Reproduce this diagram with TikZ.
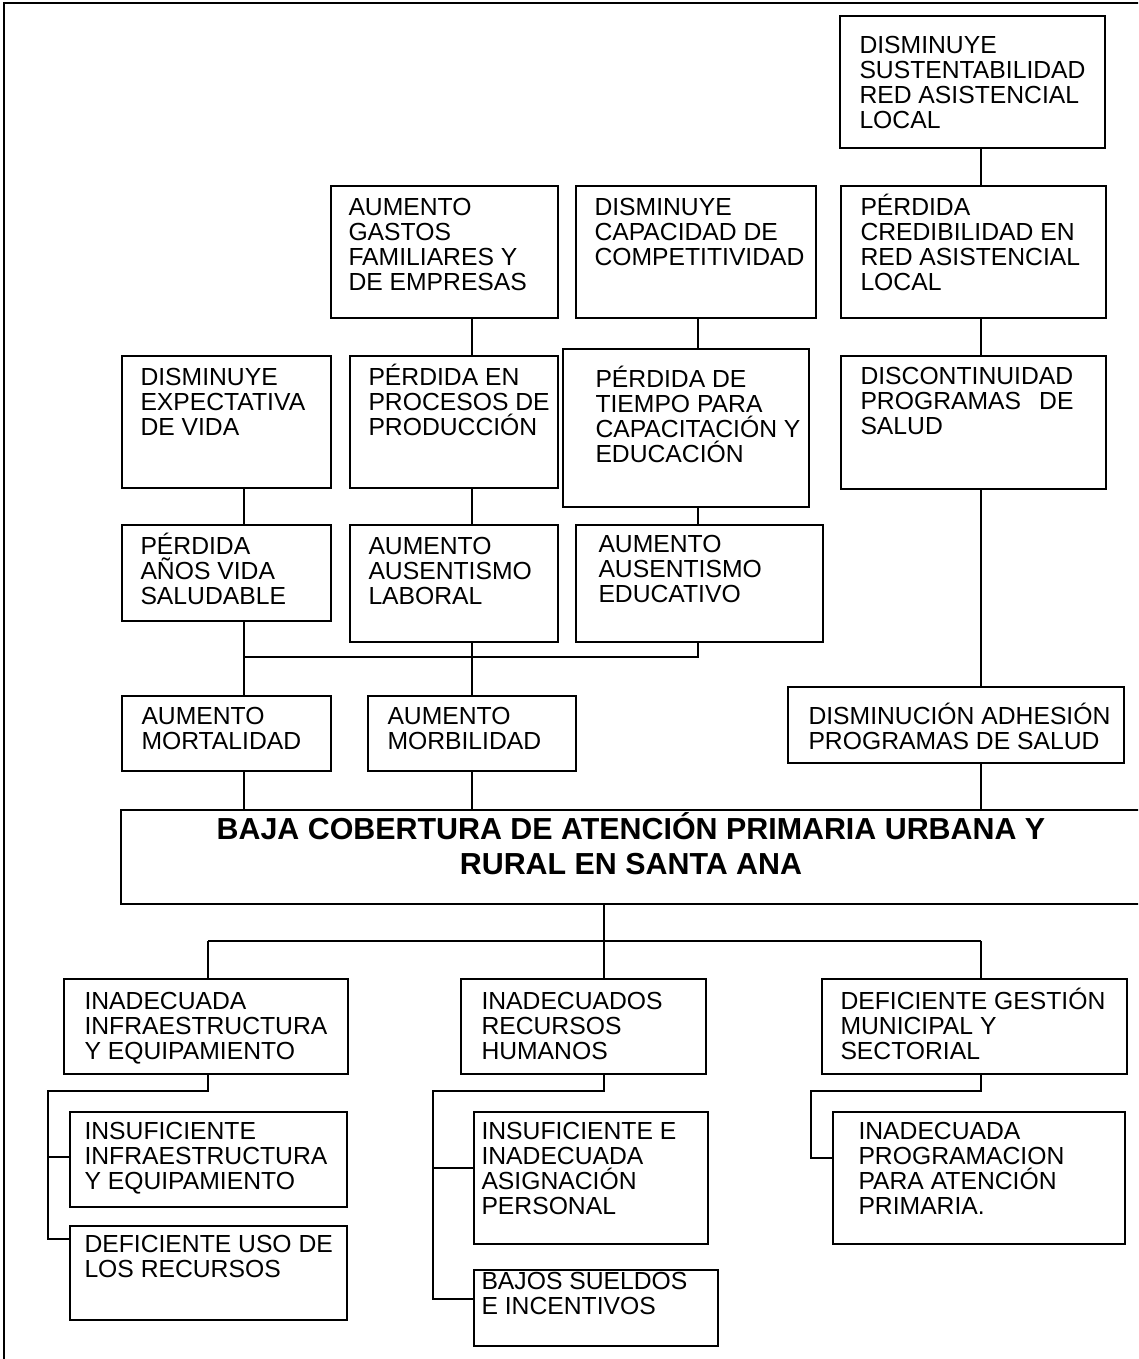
\documentclass[tikz,border=0pt]{standalone}
\usepackage{fontspec}
\setmainfont{Liberation Sans}

% framed cause/effect box: name, x, y, width, height, text x-inset, text y-inset, text
\newcommand\causebox[8]{%
  \node[box,minimum width=#4pt,minimum height=#5pt] (#1) at (#2,#3) {};
  \node[lbl] (#1-t) at (#2+#6-1.5,#3+#7-7) {\rule{0pt}{24pt}#8};}

\begin{document}
\lineskiplimit-100pt
\begin{tikzpicture}[x=1pt,y=-1pt,
  box/.style={draw,line width=1.6pt,inner sep=0pt,outer sep=0pt,anchor=north west},
  lbl/.style={inner sep=0pt,outer sep=0pt,anchor=north west,align=left,
    font=\fontsize{24.7}{25}\selectfont},
  ttl/.style={inner sep=0pt,outer sep=0pt,anchor=north,align=center,
    font=\fontsize{30.4}{35}\selectfont\bfseries},
  link/.style={line width=1.4pt}]

\useasboundingbox (0,0) rectangle (1138,1359);
\clip (0,0) rectangle (1138,1359);

% page frame
\draw[line width=1.5pt] (1145,3) -| (4,1365);

% effects
\causebox{sust}{840}{16}{265}{132}{21}{21}{DISMINUYE\\SUSTENTABILIDAD\\RED ASISTENCIAL\\LOCAL}
\causebox{cred}{841}{186}{265}{132}{21}{12}{PÉRDIDA\\CREDIBILIDAD EN\\RED ASISTENCIAL\\LOCAL}
\causebox{disc}{841}{356}{265}{133}{21}{11}{DISCONTINUIDAD\\\makebox[213pt][s]{PROGRAMAS\hfill DE}\\SALUD}
\causebox{adh}{788}{687}{336}{76}{22}{20}{DISMINUCIÓN ADHESIÓN\\PROGRAMAS DE SALUD}
\causebox{gastos}{331}{186}{227}{132}{19}{12}{AUMENTO\\GASTOS\\FAMILIARES Y\\DE EMPRESAS}
\causebox{capac}{576}{186}{240}{132}{20}{12}{DISMINUYE\\CAPACIDAD DE\\COMPETITIVIDAD}
\causebox{dexp}{122}{356}{209}{132}{20}{12}{DISMINUYE\\EXPECTATIVA\\DE VIDA}
\causebox{pen}{350}{356}{208}{132}{20}{12}{PÉRDIDA EN\\PROCESOS DE\\PRODUCCIÓN}
\causebox{pde}{563}{349}{246}{158}{34}{21}{PÉRDIDA DE\\TIEMPO PARA\\CAPACITACIÓN Y\\EDUCACIÓN}
\causebox{pav}{122}{525}{209}{96}{20}{12}{PÉRDIDA\\AÑOS VIDA\\SALUDABLE}
\causebox{aal}{350}{525}{208}{117}{20}{12}{AUMENTO\\AUSENTISMO\\LABORAL}
\causebox{aae}{576}{525}{247}{117}{24}{10}{AUMENTO\\AUSENTISMO\\EDUCATIVO}
\causebox{mort}{122}{696}{209}{75}{21}{11}{AUMENTO\\MORTALIDAD}
\causebox{morb}{368}{696}{208}{75}{21}{11}{AUMENTO\\MORBILIDAD}

% central problem
\node[box,minimum width=1030pt,minimum height=94pt] (main) at (121,810) {};
\node[ttl] (main-t) at (631,809.5) {\rule{0pt}{30pt}BAJA COBERTURA DE ATENCIÓN PRIMARIA URBANA Y\\RURAL EN SANTA ANA};

% causes
\causebox{iie}{64}{979}{284}{95}{22}{13}{INADECUADA\\INFRAESTRUCTURA\\Y EQUIPAMIENTO}
\causebox{irh}{461}{979}{245}{95}{22}{13}{INADECUADOS\\RECURSOS\\HUMANOS}
\causebox{dg}{822}{979}{305}{95}{20}{13}{DEFICIENTE GESTIÓN\\MUNICIPAL Y\\SECTORIAL}
\causebox{insinf}{70}{1112}{277}{95}{16}{10}{INSUFICIENTE\\INFRAESTRUCTURA\\Y EQUIPAMIENTO}
\causebox{defuso}{70}{1226}{277}{94}{16}{9}{DEFICIENTE USO DE\\LOS RECURSOS}
\causebox{inse}{474}{1112}{234}{132}{9}{10}{INSUFICIENTE E\\INADECUADA\\ASIGNACIÓN\\PERSONAL}
\causebox{bajos}{474}{1270}{244}{76}{9}{2}{BAJOS SUELDOS\\E INCENTIVOS}
\causebox{inprog}{833}{1112}{292}{132}{27}{10}{INADECUADA\\PROGRAMACION\\PARA ATENCIÓN\\PRIMARIA.}

% connector columns and bus rows
\coordinate (xL) at (244,0);
\coordinate (xM) at (472,0);
\coordinate (xE) at (698,0);
\coordinate (xR) at (981,0);
\coordinate (xC) at (604,0);
\coordinate (xB) at (208,0);
\coordinate (xa) at (48,0);
\coordinate (xb) at (433,0);
\coordinate (xc) at (811,0);
\coordinate (busA) at (0,657);
\coordinate (busB) at (0,941);
\coordinate (busC) at (0,1091);
\coordinate (jinsinf) at ([yshift=-45pt]insinf.north west);
\coordinate (jdefuso) at ([yshift=-13pt]defuso.north west);
\coordinate (jinse) at ([yshift=-56pt]inse.north west);
\coordinate (jbajos) at ([yshift=-29pt]bajos.north west);
\coordinate (jprog) at ([yshift=-46pt]inprog.north west);

% effect tree
\draw[link] (sust.south -| xR) -- (cred.north -| xR);
\draw[link] (cred.south -| xR) -- (disc.north -| xR);
\draw[link] (disc.south -| xR) -- (adh.north -| xR);
\draw[link] (adh.south -| xR) -- (main.north -| xR);
\draw[link] (gastos.south -| xM) -- (pen.north -| xM);
\draw[link] (capac.south -| xE) -- (pde.north -| xE);
\draw[link] (dexp.south -| xL) -- (pav.north -| xL);
\draw[link] (pen.south -| xM) -- (aal.north -| xM);
\draw[link] (pde.south -| xE) -- (aae.north -| xE);
\draw[link] (aae.south -| xE) -- (busA -| xE) -- (busA -| xL);
\draw[link] (pav.south -| xL) -- (mort.north -| xL);
\draw[link] (aal.south -| xM) -- (morb.north -| xM);
\draw[link] (mort.south -| xL) -- (main.north -| xL);
\draw[link] (morb.south -| xM) -- (main.north -| xM);

% cause tree
\draw[link] (main.south -| xC) -- (busB -| xC);
\draw[link] (busB -| xB) -- (busB -| xR);
\draw[link] (busB -| xB) -- (iie.north -| xB);
\draw[link] (busB -| xC) -- (irh.north -| xC);
\draw[link] (busB -| xR) -- (dg.north -| xR);

\draw[link] (iie.south -| xB) -- (busC -| xB) -- (busC -| xa) |- (jdefuso);
\draw[link] (jinsinf -| xa) -- (jinsinf);
\draw[link] (irh.south -| xC) -- (busC -| xC) -- (busC -| xb) |- (jbajos);
\draw[link] (jinse -| xb) -- (jinse);
\draw[link] (dg.south -| xR) -- (busC -| xR) -- (busC -| xc) |- (jprog);
\end{tikzpicture}
\end{document}
